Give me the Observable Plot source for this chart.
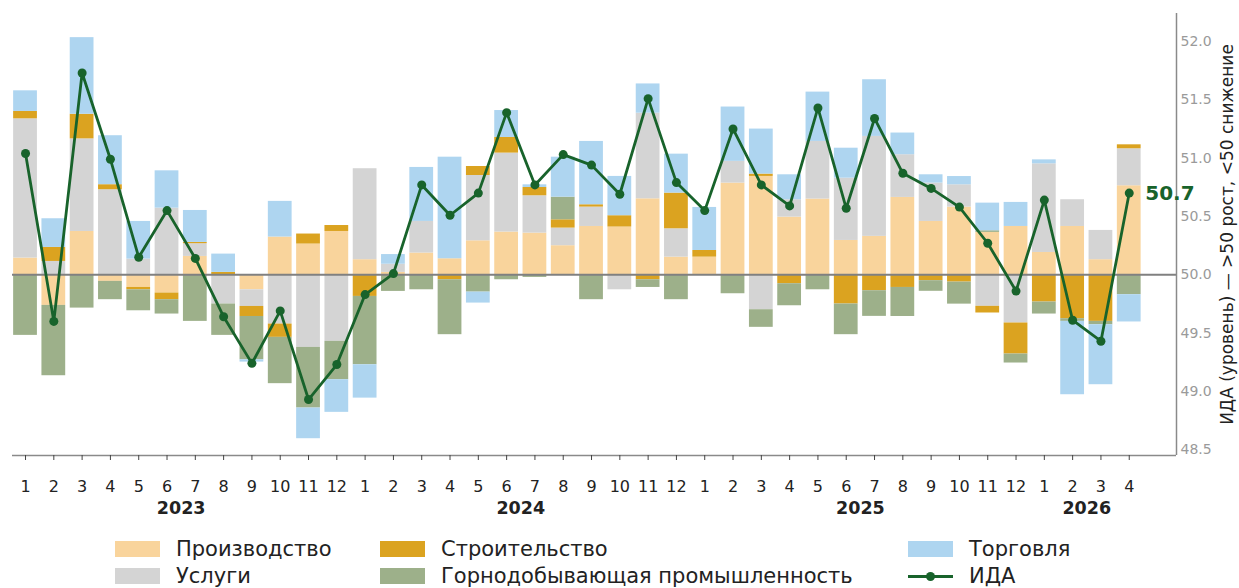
<!DOCTYPE html>
<html><head><meta charset="utf-8">
<script src="https://cdn.jsdelivr.net/npm/d3@7"></script>
<script src="https://cdn.jsdelivr.net/npm/@observablehq/plot@0.6"></script>
<style>
body{margin:0;background:#fff;font-family:"DejaVu Sans",sans-serif;}
#wrap{position:relative;width:1239px;height:588px;overflow:hidden;background:#fff}
#chart{position:absolute;left:0;top:0}
.leg{position:absolute;font-size:21px;color:#222;line-height:22px;white-space:nowrap}
.sw{position:absolute;width:45px;height:16px}
</style></head><body><div id="wrap"><div id="chart"></div></div>
<script>
// ---- data ----
const monthLabels = ["1","2","3","4","5","6","7","8","9","10","11","12",
                     "1","2","3","4","5","6","7","8","9","10","11","12",
                     "1","2","3","4","5","6","7","8","9","10","11","12",
                     "1","2","3","4"];
const yearLabels = ["2023","2024","2025","2026"];
const yearCenters = [5.5, 17.5, 29.5, 37.5];
const seriesNames = ["Производство","Услуги","Строительство","Горнодобывающая промышленность","Торговля"];
const production = [0.143,-0.263,0.371,-0.057,-0.109,-0.157,0.157,0,-0.129,0.323,0.263,0.371,
                    0.129,0.02,0.186,0.137,0.291,0.366,0.357,0.249,0.414,0.409,0.651,0.151,
                    0.151,0.786,0.843,0.494,0.649,0.294,0.329,0.663,0.457,0.58,0.363,0.414,
                    0.191,0.414,0.129,0.763];
const services = [1.194,0.114,0.794,0.729,0.134,0.571,0.109,-0.251,-0.143,-0.423,-0.623,-0.571,
                  0.78,0.07,0.271,0,0.56,0.677,0.32,0.151,0.166,-0.129,0.734,0.243,
                  0,0.186,-0.3,0.149,0.494,0.534,0.857,0.366,0.329,0.191,-0.271,-0.414,
                  0.76,0.229,0.251,0.317];
const construction = [0.063,0.12,0.211,0.043,-0.02,-0.057,0.011,0.02,-0.086,-0.114,0.086,0.051,
                      -0.186,0,0,-0.043,0.077,0.134,0.071,0.071,0.02,0.097,-0.043,0.306,
                      0.057,0,0.02,-0.077,0,-0.251,-0.137,-0.109,-0.051,-0.063,-0.057,-0.266,
                      -0.234,-0.377,-0.4,0.034];
const mining = [-0.52,-0.603,-0.286,-0.157,-0.18,-0.123,-0.4,-0.269,-0.371,-0.397,-0.52,-0.329,
                -0.586,-0.143,-0.129,-0.471,-0.149,-0.043,-0.023,0.194,-0.214,0,-0.066,-0.214,
                0,-0.163,-0.151,-0.189,-0.129,-0.263,-0.22,-0.249,-0.091,-0.189,0.014,-0.077,
                -0.103,-0.023,-0.029,-0.171];
const trade = [0.177,0.246,0.657,0.42,0.323,0.32,0.274,0.157,-0.02,0.306,-0.263,-0.28,
               -0.286,0.083,0.463,0.871,-0.094,0.231,0.023,0.343,0.543,0.337,0.251,0.334,
               0.369,0.466,0.386,0.214,0.423,0.257,0.486,0.186,0.071,0.071,0.237,0.206,
               0.034,-0.629,-0.514,-0.234];
const ida = [51.04,49.60,51.73,50.99,50.15,50.55,50.14,49.64,49.24,49.69,48.93,49.23,
             49.83,50.01,50.77,50.51,50.70,51.39,50.77,51.03,50.94,50.69,51.51,50.79,
             50.55,51.25,50.77,50.59,51.43,50.57,51.34,50.87,50.74,50.58,50.27,49.86,
             50.64,49.61,49.43,50.70];
const yTicks = [48.5,49.0,49.5,50.0,50.5,51.0,51.5,52.0];
const yLabel = "ИДА (уровень) — >50 рост, <50 снижение";

// ---- styles ----
const colors = ["#F9D49C","#D4D4D4","#DBA320","#9DB08A","#AED5F0"];
const lineColor = "#18632B";

// ---- build stacked table around the 50 baseline ----
const seriesVals = [production, services, construction, mining, trade];
const stacked = [];
for (let i = 0; i < ida.length; i++) {
  let pos = 50, neg = 50;
  seriesVals.forEach((arr, s) => {
    const v = arr[i];
    if (!v) return;
    if (v > 0) { stacked.push({i, s, y1: pos, y2: pos + v}); pos += v; }
    else { stacked.push({i, s, y1: neg, y2: neg + v}); neg += v; }
  });
}
const idaData = ida.map((v, i) => ({i, v}));
const years = yearLabels.map((y, k) => ({y, c: yearCenters[k]}));

const H = 525;
const yMin = 48.45, yMax = 52.24, xMin = -0.46, xMax = 40.67;
const chart = Plot.plot({
  width: 1239, height: H,
  marginLeft: 12, marginRight: 63, marginTop: 13, marginBottom: H - 455,
  style: {fontFamily: "DejaVu Sans, sans-serif", fontSize: "16px", color: "#222", background: "#fff"},
  x: {type: "linear", domain: [xMin, xMax]},
  y: {domain: [yMin, yMax]},
  marks: [
    Plot.rectY(stacked, {x1: d => d.i - 0.42, x2: d => d.i + 0.42, y1: "y1", y2: "y2", fill: d => colors[d.s]}),
    Plot.ruleY([50], {stroke: "#808080", strokeWidth: 2}),
    Plot.ruleY([yMin], {stroke: "#8a8a8a", strokeWidth: 1.5}),
    Plot.ruleX([xMax], {stroke: "#8a8a8a", strokeWidth: 1.5}),
    Plot.line(idaData, {x: "i", y: "v", stroke: lineColor, strokeWidth: 2.8}),
    Plot.dot(idaData, {x: "i", y: "v", r: 4.5, fill: lineColor}),
    Plot.text([idaData[idaData.length - 1]], {x: "i", y: "v", text: d => d.v.toFixed(1), dx: 16, textAnchor: "start",
      fontSize: 20, fontWeight: "bold", fill: lineColor}),
    Plot.axisX({ticks: d3.range(ida.length), tickFormat: i => monthLabels[i], tickSize: 5, tickPadding: 20,
      fontSize: 16, label: null, stroke: "#444"}),
    Plot.axisY({anchor: "right", ticks: yTicks, tickFormat: d => d.toFixed(1), tickSize: 0, tickPadding: 4,
      color: "#9a9a9a", fontSize: 14, label: null}),
    Plot.text([yLabel], {frameAnchor: "right", rotate: -90, dx: 51, textAnchor: "middle",
      text: d => d, fontSize: 17, fill: "#222"}),
    Plot.text(years, {x: "c", y: yMin, dy: 53, text: "y", fontWeight: "bold", fontSize: 17.5, fill: "#222"})
  ]
});
document.getElementById("chart").appendChild(chart);

// ---- legend ----
const wrap = document.getElementById("wrap");
const legendItems = [
  {name: seriesNames[0], c: colors[0], x: 115, row: 0},
  {name: seriesNames[1], c: colors[1], x: 115, row: 1},
  {name: seriesNames[2], c: colors[2], x: 380, row: 0},
  {name: seriesNames[3], c: colors[3], x: 380, row: 1},
  {name: seriesNames[4], c: colors[4], x: 908, row: 0},
  {name: "ИДА", line: true, x: 908, row: 1}
];
const rowY = [549, 576];
legendItems.forEach(it => {
  const cy = rowY[it.row];
  if (it.line) {
    const l = document.createElement("div");
    l.style.cssText = `position:absolute;left:${it.x}px;top:${cy - 1.5}px;width:45px;height:3px;background:${lineColor}`;
    wrap.appendChild(l);
    const d = document.createElement("div");
    d.style.cssText = `position:absolute;left:${it.x + 18}px;top:${cy - 4.5}px;width:9px;height:9px;border-radius:50%;background:${lineColor}`;
    wrap.appendChild(d);
  } else {
    const s = document.createElement("div");
    s.className = "sw";
    s.style.left = it.x + "px"; s.style.top = (cy - 8) + "px"; s.style.background = it.c;
    wrap.appendChild(s);
  }
  const t = document.createElement("div");
  t.className = "leg";
  t.textContent = it.name;
  t.style.left = (it.x + 61) + "px"; t.style.top = (cy - 11) + "px";
  wrap.appendChild(t);
});
</script></body></html>
